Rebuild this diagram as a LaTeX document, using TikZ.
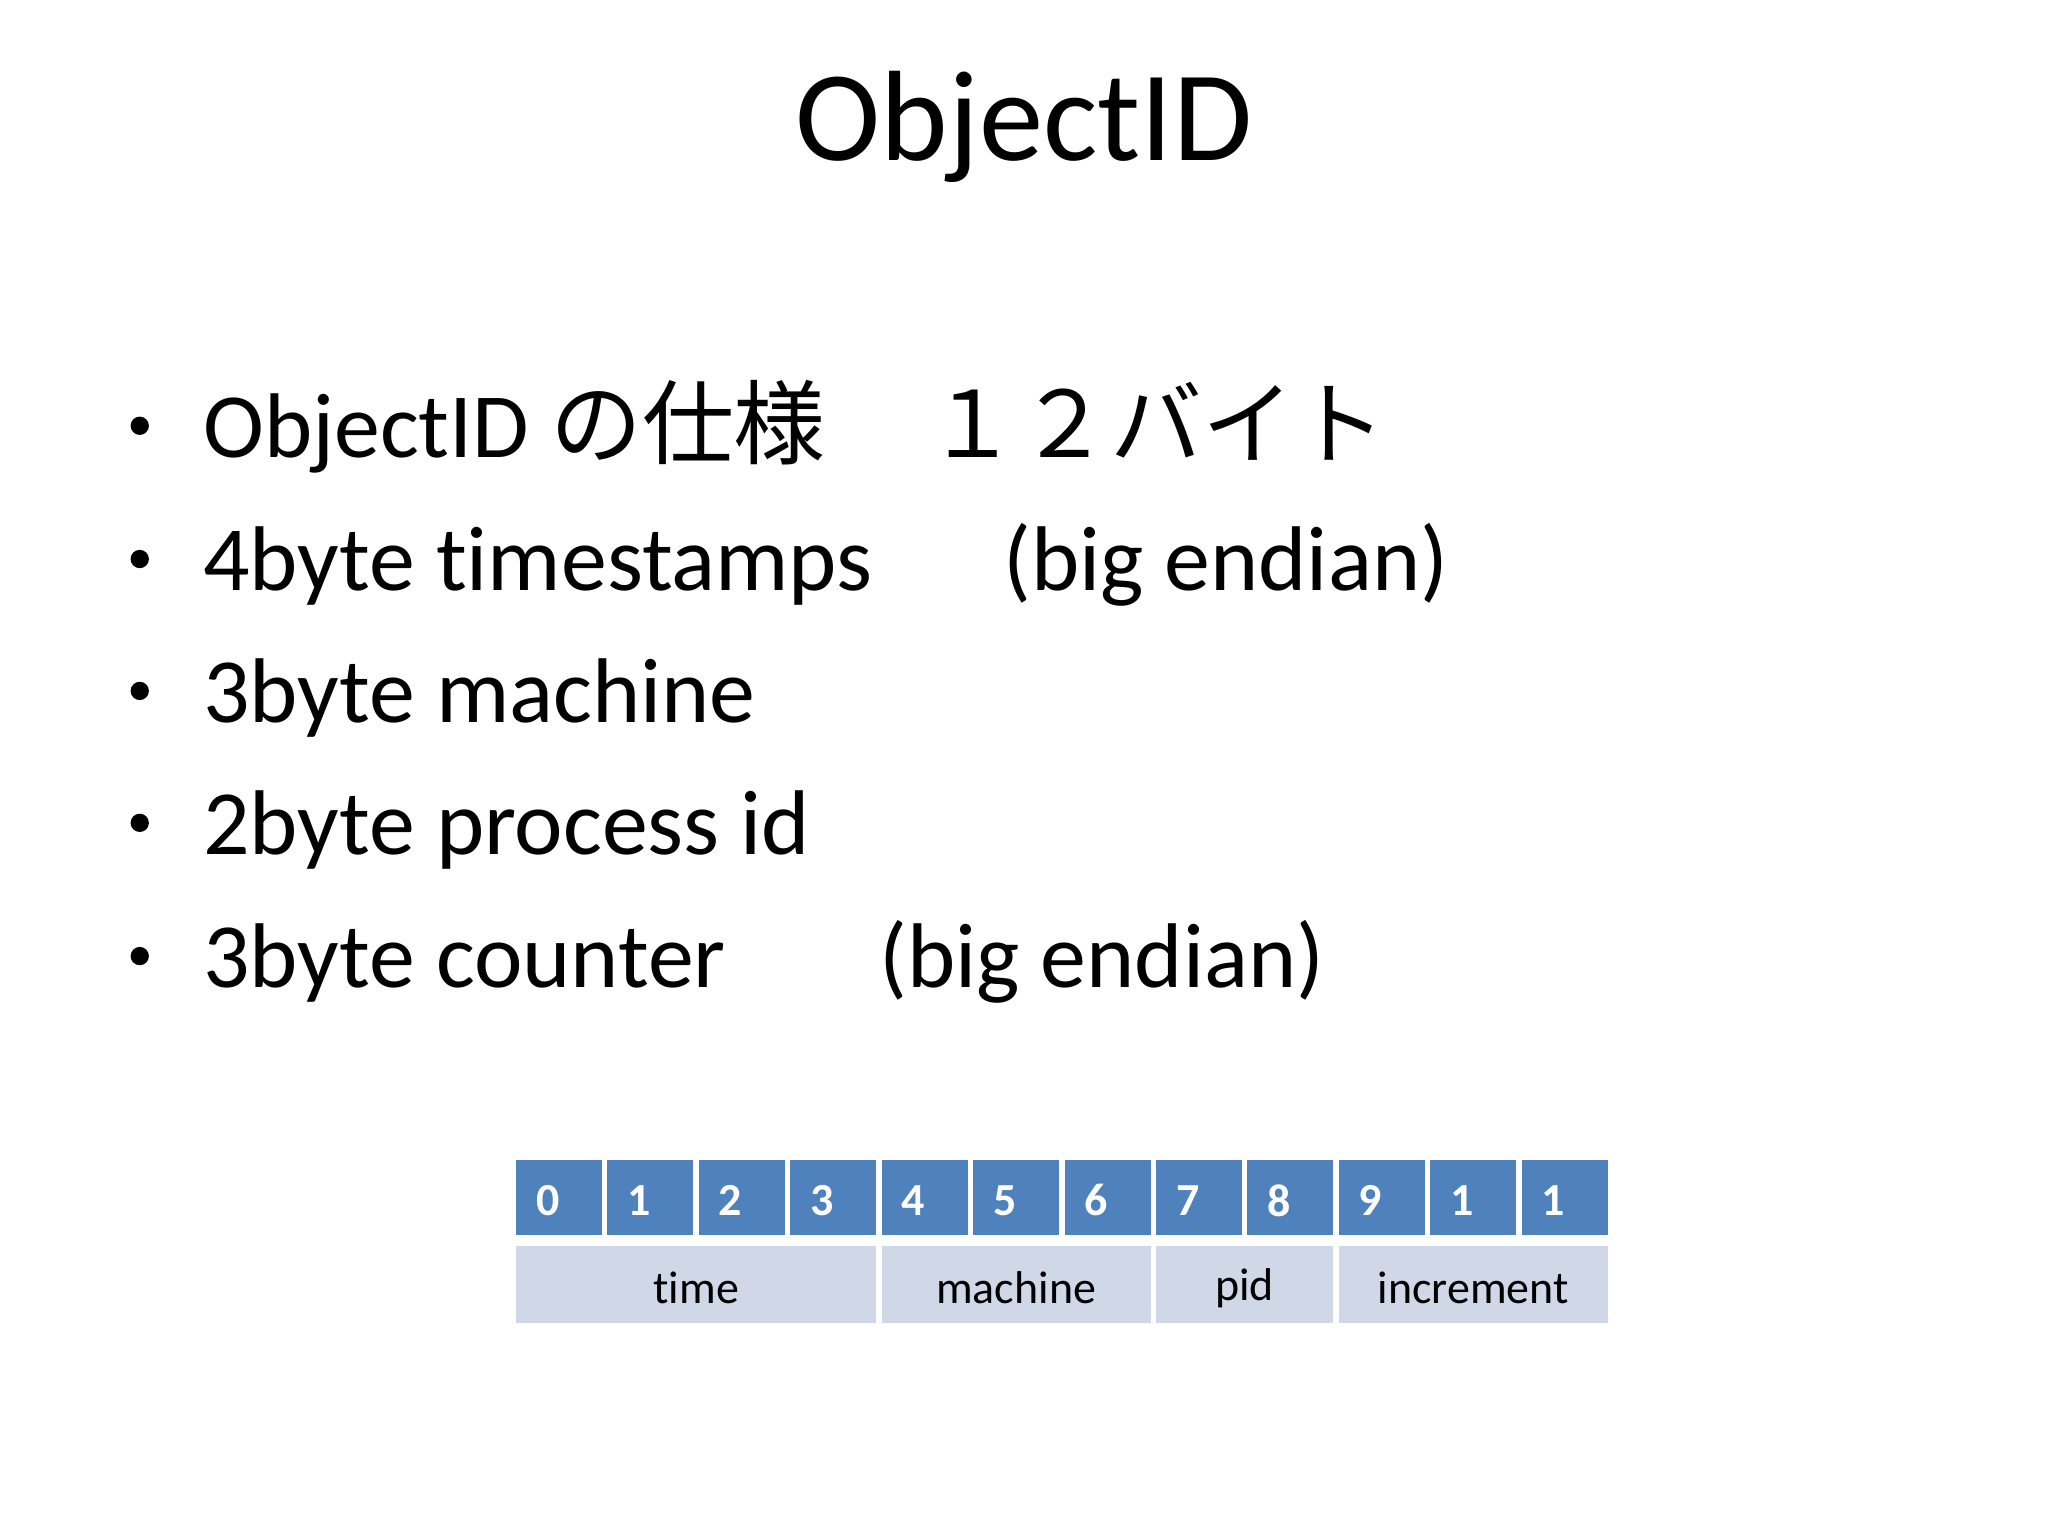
\documentclass[tikz,border=0pt]{standalone}
\usepackage{fontspec}
\setmainfont[RawFeature=-liga]{Carlito}
\newfontfamily\cjk{Noto Sans CJK JP}
\definecolor{hdr}{HTML}{4F81BD}
\definecolor{lite}{HTML}{D0D8E8}
\begin{document}
\begin{tikzpicture}[x=0.01cm,y=-0.01cm,
  bul/.style={anchor=base west,font=\fontsize{20}{24}\selectfont,inner sep=0},
  hcell/.style={fill=hdr,draw=white,line width=1.2pt},
  lcell/.style={fill=lite,draw=white,line width=1.2pt},
  num/.style={text=white,font=\fontsize{10}{12}\selectfont\bfseries,anchor=west},
  lab/.style={font=\fontsize{10}{12}\selectfont}]
\useasboundingbox (0,0) rectangle (1568,1176);
\node[font=\fontsize{28}{34}\selectfont] (title) at (784,97) {ObjectID};
\foreach \y/\t [count=\i] in {350/{ObjectID {\cjk の仕様\hspace{1.1em}１２バイト}},452/{4byte timestamps \hspace{1.2em}(big endian)},553/{3byte machine},654/{2byte process id},756/{3byte counter \hspace{1.45em}(big endian)}}{
  \node[bul] (b\i) at (155,\y) {\t};
  \fill (107,\y-24) circle[radius=0.07cm];
}
\foreach \d [count=\i from 0] in {0,1,2,3,4,5,6,7,8,9,1,1}{
  \draw[hcell] (393+70*\i,886) rectangle (463+70*\i,948);
  \node[num] (n\i) at (398+70*\i,919) {\d};
}
\foreach \a/\b/\t/\n in {393/673/time/t,673/883/machine/m,883/1023/pid/p,1023/1233/increment/c}{
  \draw[lcell] (\a,952) rectangle (\b,1015);
  \node[lab] (\n) at ({(\a+\b)/2},986) {\t};
}
\end{tikzpicture}
\end{document}
